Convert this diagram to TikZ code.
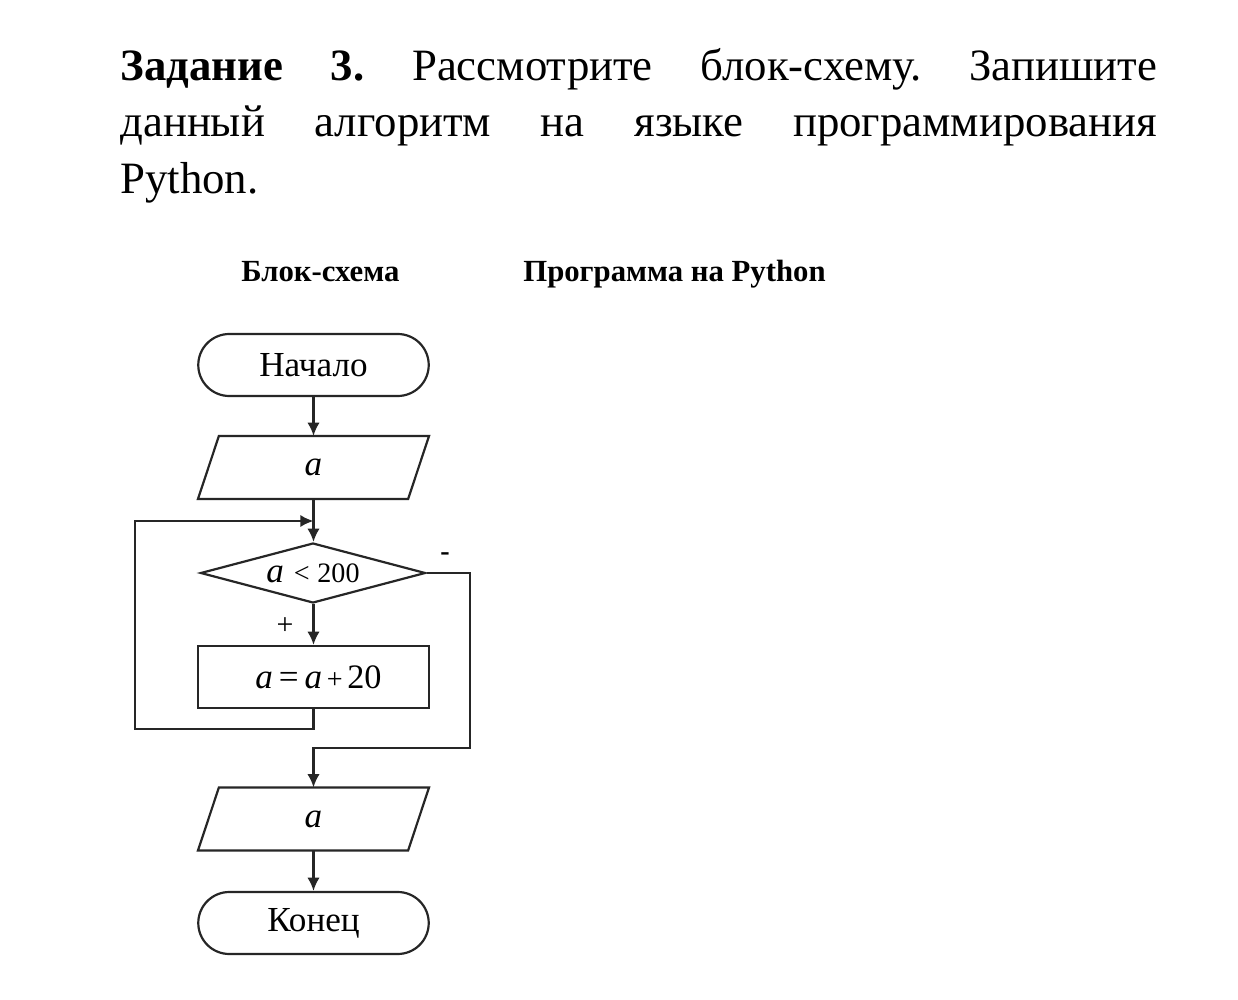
\documentclass[tikz,border=0pt]{standalone}
\usepackage{fontspec}
\setmainfont{Liberation Serif}
\usetikzlibrary{arrows.meta,shapes.geometric,shapes.misc}
\begin{document}
\begin{tikzpicture}[x=0.02cm,y=-0.02cm,
  shp/.style={draw=black!85, line width=1.25pt, inner sep=0pt, font=\fontsize{20pt}{22pt}\selectfont},
  term/.style={shp, rounded rectangle, minimum width=4.61cm, minimum height=1.24cm},
  iobox/.style={shp, draw=none, rectangle, minimum width=4.16cm, minimum height=1.22cm},
  dec/.style={shp, diamond, aspect=3.75, minimum width=4.5cm, minimum height=1.2cm},
  proc/.style={shp, rectangle, minimum width=4.62cm, minimum height=1.24cm},
  conn/.style={draw=black!85, line width=1.25pt},
  arr/.style={conn, -{Latex[length=7.5pt,width=7pt]}},
  ttl/.style={inner sep=0pt, anchor=base west, font=\fontsize{25.5pt}{30pt}\selectfont},
  sub/.style={inner sep=0pt, anchor=base west, font=\fontsize{17.5pt}{20pt}\selectfont\bfseries},
  lbl/.style={inner sep=0pt, font=\fontsize{17pt}{20pt}\selectfont}
]
\useasboundingbox[fill=white] (0,0) rectangle (1238,1000);

% title
\node[ttl] (t1) at (120,80.5) {\makebox[20.74cm][l]{\textbf{Задание}\hfill\textbf{3.}\hfill Рассмотрите\hfill блок-схему.\hfill Запишите}};
\node[ttl] (t2) at (120,137) {\makebox[20.74cm][l]{данный\hfill алгоритм\hfill на\hfill языке\hfill программирования}};
\node[ttl] (t3) at (120,193.5) {Python.};

% subheadings
\node[sub] (h1) at (241,282) {Блок-схема};
\node[sub] (h2) at (523,282) {Программа на Python};

% flowchart
\node[term] (start) at (313.5,365) {Начало};
\node[iobox] (in) at (313.5,467.5) {\textit{a}};
\node[dec] (cond) at (313,573) {\textit{a}\;{\fontsize{16pt}{18pt}\selectfont <\;200}};
\node[proc] (step) at (313.5,677) {\hspace*{0.2cm}\textit{a}\,=\,\textit{a}{\fontsize{16pt}{18pt}\selectfont\,+\,}{\fontsize{19.5pt}{20pt}\selectfont 20}};
\node[iobox] (out) at (313.5,819) {\textit{a}};
\node[term] (end) at (313.5,923) {Конец};

% parallelogram outlines
\draw[conn, line join=miter] ([xshift=-0.21cm]in.south west) -- ([xshift=0.21cm]in.north west) -- ([xshift=0.21cm]in.north east) -- ([xshift=-0.21cm]in.south east) -- cycle;
\draw[conn, line join=miter] ([xshift=-0.21cm]out.south west) -- ([xshift=0.21cm]out.north west) -- ([xshift=0.21cm]out.north east) -- ([xshift=-0.21cm]out.south east) -- cycle;

\coordinate (loopL) at (135,729);
\coordinate (join) at (313.5,521);
\coordinate (exR) at (470,748);

\draw[arr] (start.south) -- (in.north);
\draw[arr] (in.south) -- (cond.north -| in.south);
\draw[arr] (cond.south -| in.south) -- (step.north);
\draw[arr] (step.south) |- (loopL) |- (join);
\draw[arr] (cond.east) -| (exR) -| (out.north);
\draw[arr] (out.south) -- (end.north);

\node[lbl] (plus) at (285,626) {+};
\node[inner sep=0pt, font=\fontsize{16pt}{18pt}\selectfont\bfseries] (minus) at (445,557) {-};
\end{tikzpicture}
\end{document}
